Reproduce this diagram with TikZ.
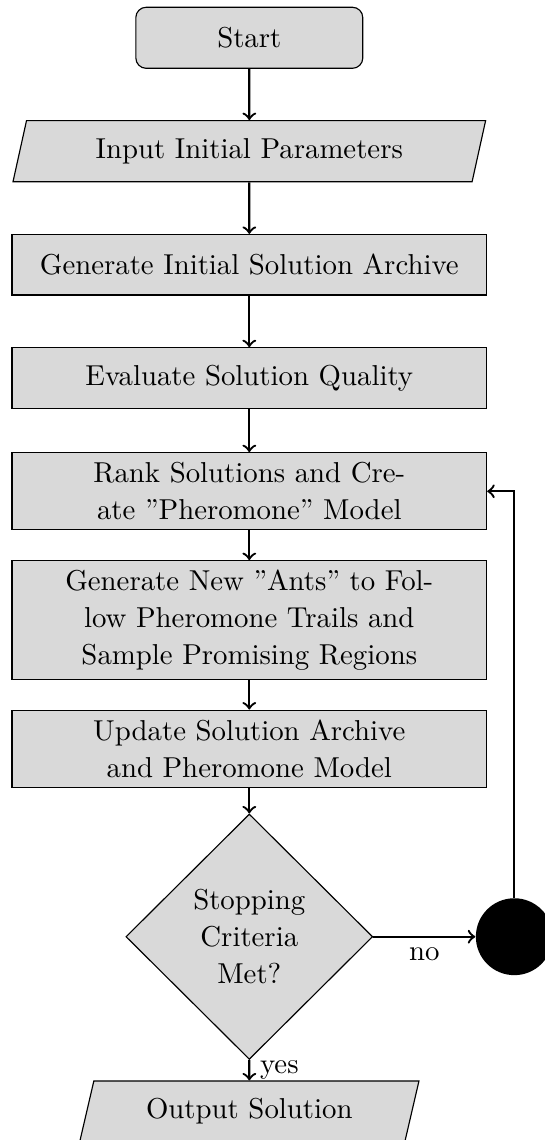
\documentclass[tikz,border=0pt]{standalone}
\usetikzlibrary{shapes.geometric}
\begin{document}
\begin{tikzpicture}[x=0.34722pt, y=-0.34722pt]
\tikzset{
  base/.style={draw, thin, fill=gray!30, align=center, inner sep=0pt,
    font=\fontsize{10pt}{12.85pt}\selectfont},
  startstop/.style={base, rectangle, rounded corners=3.6pt,
    minimum width=78.8pt, minimum height=21.2pt},
  io/.style={base, trapezium, trapezium left angle=70, trapezium right angle=110,
    trapezium stretches=true, minimum height=21.2pt},
  process/.style={base, rectangle, minimum width=164.8pt, minimum height=21pt},
  decision/.style={base, diamond, aspect=1, minimum width=85.7pt, minimum height=85.2pt},
  junction/.style={circle, fill=black, minimum size=26.7pt, inner sep=0pt},
  flow/.style={thick, ->},
  tag/.style={font=\fontsize{10pt}{12.85pt}\selectfont}
}
\useasboundingbox (0,0) rectangle (545,1140);
\clip (0,0) rectangle (545,1140);

\node[startstop] (start) at (249.3,37.8) {Start};
\node[io, minimum width=164.2pt] (input) at (249.3,151.2) {Input Initial Parameters};
\node[process] (init) at (249.3,264.7) {Generate Initial Solution Archive};
\node[process] (eval) at (249.3,378) {Evaluate Solution Quality};
\node[process, minimum height=26.8pt] (rank) at (249.3,491.3)
  {Rank Solutions and Cre-\\ate ''Pheromone'' Model};
\node[process, minimum height=41.2pt] (ants) at (249.3,620)
  {Generate New ''Ants'' to Fol-\\low Pheromone Trails and\\Sample Promising Regions};
\node[process, minimum height=26.8pt] (update) at (249.3,748.7)
  {Update Solution Archive\\and Pheromone Model};
\node[decision] (stop) at (249.3,936.7) {Stopping\\Criteria\\Met?};
\node[junction] (loop) at (514.3,936.7) {};
\node[io, minimum width=118.6pt] (output) at (249.3,1111.5) {Output Solution};

\draw[flow] (start) -- (input);
\draw[flow] (input) -- (init);
\draw[flow] (init) -- (eval);
\draw[flow] (eval) -- (rank);
\draw[flow] (rank) -- (ants);
\draw[flow] (ants) -- (update);
\draw[flow] (update) -- (stop);
\draw[flow] (stop.east) -- node[tag, midway, below] {no} (loop.west);
\draw[flow] (stop.south) -- node[tag, midway, right] {yes} (output);
\draw[flow] (loop.north) |- (rank.east);
\end{tikzpicture}
\end{document}
